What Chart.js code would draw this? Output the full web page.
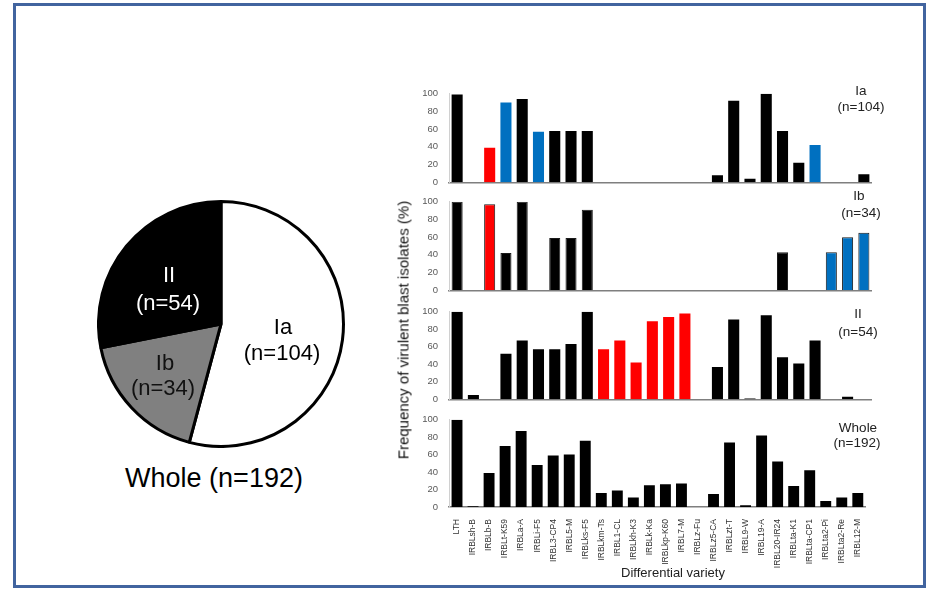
<!DOCTYPE html>
<html>
<head>
<meta charset="utf-8">
<script src="https://cdn.jsdelivr.net/npm/chart.js@4"></script>
<style>
  body { margin: 0; background: #fff; font-family: "Liberation Sans", Arial, sans-serif; }
  #frame { position: absolute; left: 13px; top: 3px; width: 907px; height: 579px; border: 3px solid #41649f; }
  canvas { position: absolute; }
  .lbl { position: absolute; transform: translate(-50%, -50%); white-space: nowrap; text-align: center; line-height: 1; }
</style>
</head>
<body>
<div id="frame"></div>

<canvas id="pie" width="248" height="248" style="left:97px;top:200px"></canvas>
<canvas id="pIa" width="462" height="106" style="left:410px;top:85px"></canvas>
<canvas id="pIb" width="462" height="106" style="left:410px;top:193px"></canvas>
<canvas id="pII" width="462" height="105" style="left:410px;top:303px"></canvas>
<canvas id="pWhole" width="462" height="170" style="left:410px;top:411px"></canvas>

<!-- pie labels -->
<div class="lbl" style="left:169px;top:275px;font-size:22px;color:#fff">II</div>
<div class="lbl" style="left:168px;top:303px;font-size:22px;color:#fff">(n=54)</div>
<div class="lbl" style="left:165px;top:363px;font-size:22px;color:#111">Ib</div>
<div class="lbl" style="left:163px;top:388px;font-size:22px;color:#111">(n=34)</div>
<div class="lbl" style="left:283px;top:327px;font-size:22px;color:#000">Ia</div>
<div class="lbl" style="left:282px;top:353px;font-size:22px;color:#000">(n=104)</div>
<div class="lbl" style="left:214px;top:478px;font-size:27px;color:#000">Whole (n=192)</div>

<!-- panel labels -->
<div class="lbl" style="left:861px;top:91px;font-size:13.5px;color:#222">Ia</div>
<div class="lbl" style="left:861px;top:107px;font-size:13.5px;color:#222">(n=104)</div>
<div class="lbl" style="left:859px;top:196px;font-size:13.5px;color:#222">Ib</div>
<div class="lbl" style="left:861px;top:213px;font-size:13.5px;color:#222">(n=34)</div>
<div class="lbl" style="left:858px;top:314px;font-size:13.5px;color:#222">II</div>
<div class="lbl" style="left:858px;top:332px;font-size:13.5px;color:#222">(n=54)</div>
<div class="lbl" style="left:858px;top:428px;font-size:13.5px;color:#222">Whole</div>
<div class="lbl" style="left:857px;top:443px;font-size:13.5px;color:#222">(n=192)</div>

<!-- axis titles -->
<div class="lbl" style="left:403px;top:330px;font-size:15px;color:#111;transform:translate(-50%,-50%) rotate(-90deg)">Frequency of virulent blast isolates (%)</div>
<div class="lbl" style="left:673px;top:572px;font-size:13px;color:#222">Differential variety</div>

<script>
// differential varieties
const varieties = ["LTH", "IRBLsh-B", "IRBLb-B", "IRBLt-K59", "IRBLa-A", "IRBLi-F5", "IRBL3-CP4",
  "IRBL5-M", "IRBLks-F5", "IRBLkm-Ts", "IRBL1-CL", "IRBLkh-K3", "IRBLk-Ka", "IRBLkp-K60",
  "IRBL7-M", "IRBLz-Fu", "IRBLz5-CA", "IRBLzt-T", "IRBL9-W", "IRBL19-A", "IRBL20-IR24",
  "IRBLta-K1", "IRBLta-CP1", "IRBLta2-Pi", "IRBLta2-Re", "IRBL12-M"];

// virulence frequency (%) per group
const valuesIa = [99, 0, 39, 90, 94, 57, 58, 58, 58, 0, 0, 0, 0, 0, 0, 0, 8, 92, 4, 100, 58, 22, 42, 0, 0, 9];
const valuesIb = [100, 0, 97, 42, 100, 0, 59, 59, 91, 0, 0, 0, 0, 0, 0, 0, 0, 0, 0, 0, 43, 0, 0, 43, 60, 65];
const valuesII = [100, 5, 0, 52, 67, 57, 57, 63, 100, 57, 67, 42, 89, 94, 98, 0, 37, 91, 1, 96, 48, 41, 67, 0, 3, 0];
const valuesWhole = [100, 1, 39, 70, 87, 48, 59, 60, 76, 16, 19, 11, 25, 26, 27, 0, 15, 74, 2, 82, 52, 24, 42, 7, 11, 16];

// pie: group sizes
const groups = ["Ia", "Ib", "II"];
const groupCounts = [104, 34, 54];

// bar highlight colours (k = black, r = red, b = blue)
const BLACK = "#000000", RED = "#ff0000", BLUE = "#0070c0";
const codeIa = "kkrbkbkkkkkkkkkkkkkkkkbkkk";
const codeIb = "kkrkkkkkkkkkkkkkkkkkkkkbbb";
const codeII = "kkkkkkkkkrrrrrrkkkkkkkkkkk";
const codeWhole = "kkkkkkkkkkkkkkkkkkkkkkkkkk";

function toColors(code) {
  return code.split("").map(c => c === "r" ? RED : c === "b" ? BLUE : BLACK);
}

function makePanel(id, values, code, showX, outline) {
  const ctx = document.getElementById(id).getContext("2d");
  return new Chart(ctx, {
    type: "bar",
    data: {
      labels: varieties,
      datasets: [{
        data: values,
        backgroundColor: toColors(code),
        borderColor: outline ? "#1a1a1a" : toColors(code),
        borderWidth: outline ? 1 : 0,
        categoryPercentage: 1,
        barPercentage: 0.68
      }]
    },
    options: {
      responsive: false,
      animation: false,
      layout: { padding: { top: 8, bottom: showX ? 0 : 2, left: 0, right: 0 } },
      plugins: { legend: { display: false }, tooltip: { enabled: false } },
      scales: {
        x: {
          grid: { display: false },
          border: { color: "#7f7f7f", width: 1.5 },
          ticks: {
            display: showX,
            autoSkip: false,
            maxRotation: 90,
            minRotation: 90,
            padding: 4,
            color: "#333",
            font: { family: "Liberation Sans", size: 8.5 }
          },
          afterFit: s => { s.height = showX ? 74 : 0; }
        },
        y: {
          min: 0,
          max: 100,
          grid: { display: false },
          border: { color: "#d0d0d0", width: 1 },
          ticks: {
            stepSize: 20,
            padding: 3,
            color: "#595959",
            font: { family: "Liberation Sans", size: 9.5 }
          },
          afterFit: s => { s.width = 39; }
        }
      }
    }
  });
}

makePanel("pIa", valuesIa, codeIa, false, false);
makePanel("pIb", valuesIb, codeIb, false, true);
makePanel("pII", valuesII, codeII, false, false);
makePanel("pWhole", valuesWhole, codeWhole, true, false);

new Chart(document.getElementById("pie").getContext("2d"), {
  type: "pie",
  data: {
    labels: groups,
    datasets: [{
      data: groupCounts,
      backgroundColor: ["#ffffff", "#808080", "#000000"],
      borderColor: "#000000",
      borderWidth: 3
    }]
  },
  options: {
    responsive: false,
    animation: false,
    plugins: { legend: { display: false }, tooltip: { enabled: false } }
  }
});
</script>
</body>
</html>
